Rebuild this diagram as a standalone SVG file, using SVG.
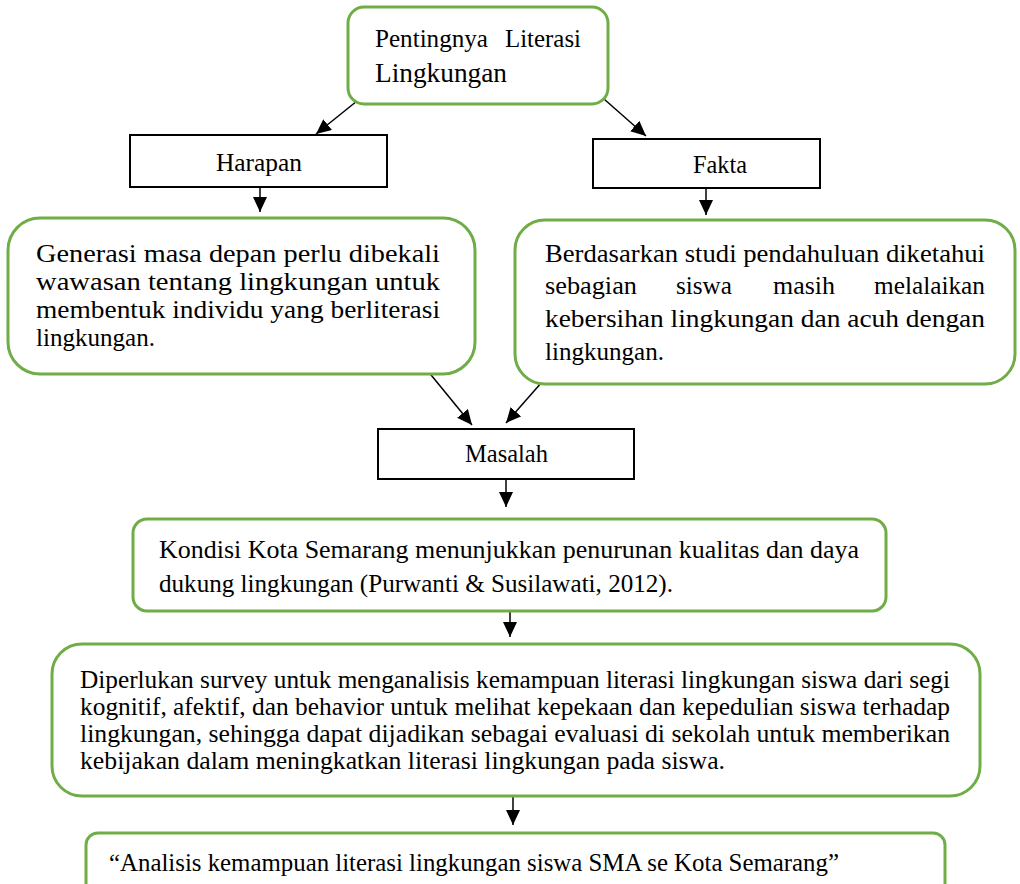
<svg xmlns="http://www.w3.org/2000/svg" width="1020" height="884" viewBox="0 0 1020 884">
<style>
.g{fill:#fff;stroke:#70AD47;stroke-width:3}
.b{fill:#fff;stroke:#000;stroke-width:2}
.t{font-family:"Liberation Serif","DejaVu Serif",serif;fill:#000}
.c{stroke:#000;stroke-width:1.5;fill:none;marker-end:url(#ah)}
</style>
<defs>
<marker id="ah" markerUnits="userSpaceOnUse" markerWidth="16" markerHeight="14" refX="15" refY="7" orient="auto">
<path d="M0,0 L15,7 L0,14 z" fill="#000"/>
</marker>
</defs>
<rect width="1020" height="884" fill="#fff"/>
<g id="connectors">
<line class="c" x1="357" y1="101" x2="316" y2="134"/>
<line class="c" x1="604" y1="99" x2="646" y2="136"/>
<line class="c" x1="260" y1="187" x2="260" y2="212"/>
<line class="c" x1="706" y1="188" x2="706" y2="215"/>
<line class="c" x1="427" y1="370" x2="472" y2="425"/>
<line class="c" x1="542" y1="382" x2="506" y2="423"/>
<line class="c" x1="506" y1="479" x2="506" y2="507"/>
<line class="c" x1="510" y1="611" x2="510" y2="637"/>
<line class="c" x1="513" y1="796" x2="513" y2="825"/>
</g>
<g id="pentingnya">
<rect class="g" x="348" y="7" width="260" height="97" rx="16"/>
<text class="t" font-size="25"><tspan x="375" y="47" textLength="113" lengthAdjust="spacingAndGlyphs">Pentingnya</tspan><tspan x="505" y="47" textLength="76" lengthAdjust="spacingAndGlyphs">Literasi</tspan></text>
<text class="t" x="375" y="82" font-size="27" textLength="132" lengthAdjust="spacingAndGlyphs">Lingkungan</text>
</g>
<g id="harapan">
<rect class="b" x="130" y="135" width="257" height="52"/>
<text class="t" x="216" y="171" font-size="25" textLength="86" lengthAdjust="spacingAndGlyphs">Harapan</text>
</g>
<g id="fakta">
<rect class="b" x="593" y="139" width="227" height="49"/>
<text class="t" x="693" y="173" font-size="25" textLength="54" lengthAdjust="spacingAndGlyphs">Fakta</text>
</g>
<g id="harapan-detail">
<rect class="g" x="8" y="218" width="467" height="156" rx="32"/>
<text class="t" font-size="25">
<tspan x="36" y="262" textLength="404" lengthAdjust="spacingAndGlyphs">Generasi masa depan perlu dibekali</tspan>
<tspan x="36" y="290" textLength="404" lengthAdjust="spacingAndGlyphs">wawasan tentang lingkungan untuk</tspan>
<tspan x="36" y="318" textLength="404" lengthAdjust="spacingAndGlyphs">membentuk individu yang berliterasi</tspan>
<tspan x="36" y="346" textLength="119" lengthAdjust="spacingAndGlyphs">lingkungan.</tspan>
</text>
</g>
<g id="fakta-detail">
<rect class="g" x="515" y="220" width="500" height="164" rx="30"/>
<text class="t" font-size="25">
<tspan x="545" y="262" textLength="440" lengthAdjust="spacingAndGlyphs">Berdasarkan studi pendahuluan diketahui</tspan>
<tspan x="545" y="294" textLength="92" lengthAdjust="spacingAndGlyphs">sebagian</tspan>
<tspan x="676" y="294" textLength="56" lengthAdjust="spacingAndGlyphs">siswa</tspan>
<tspan x="773" y="294" textLength="62" lengthAdjust="spacingAndGlyphs">masih</tspan>
<tspan x="874" y="294" textLength="111" lengthAdjust="spacingAndGlyphs">melalaikan</tspan>
<tspan x="545" y="327" textLength="440" lengthAdjust="spacingAndGlyphs">kebersihan lingkungan dan acuh dengan</tspan>
<tspan x="545" y="360" textLength="119" lengthAdjust="spacingAndGlyphs">lingkungan.</tspan>
</text>
</g>
<g id="masalah">
<rect class="b" x="378" y="429" width="256" height="50"/>
<text class="t" x="465" y="462" font-size="25" textLength="83" lengthAdjust="spacingAndGlyphs">Masalah</text>
</g>
<g id="kondisi">
<rect class="g" x="133" y="519" width="753" height="92" rx="14"/>
<text class="t" font-size="25">
<tspan x="159" y="558" textLength="700" lengthAdjust="spacingAndGlyphs">Kondisi Kota Semarang menunjukkan penurunan kualitas dan daya</tspan>
<tspan x="159" y="592" textLength="514" lengthAdjust="spacingAndGlyphs">dukung lingkungan (Purwanti &amp; Susilawati, 2012).</tspan>
</text>
</g>
<g id="diperlukan">
<rect class="g" x="52" y="644" width="928" height="152" rx="30"/>
<text class="t" font-size="25">
<tspan x="80" y="688" textLength="870" lengthAdjust="spacingAndGlyphs">Diperlukan survey untuk menganalisis kemampuan literasi lingkungan siswa dari segi</tspan>
<tspan x="80" y="715" textLength="870" lengthAdjust="spacingAndGlyphs">kognitif, afektif, dan behavior untuk melihat kepekaan dan kepedulian siswa terhadap</tspan>
<tspan x="80" y="742" textLength="870" lengthAdjust="spacingAndGlyphs">lingkungan, sehingga dapat dijadikan sebagai evaluasi di sekolah untuk memberikan</tspan>
<tspan x="80" y="769" textLength="645" lengthAdjust="spacingAndGlyphs">kebijakan dalam meningkatkan literasi lingkungan pada siswa.</tspan>
</text>
</g>
<g id="analisis">
<rect class="g" x="86" y="833" width="859" height="70" rx="12"/>
<text class="t" x="109" y="871" font-size="25" textLength="730" lengthAdjust="spacingAndGlyphs">“Analisis kemampuan literasi lingkungan siswa SMA se Kota Semarang”</text>
</g>
</svg>
